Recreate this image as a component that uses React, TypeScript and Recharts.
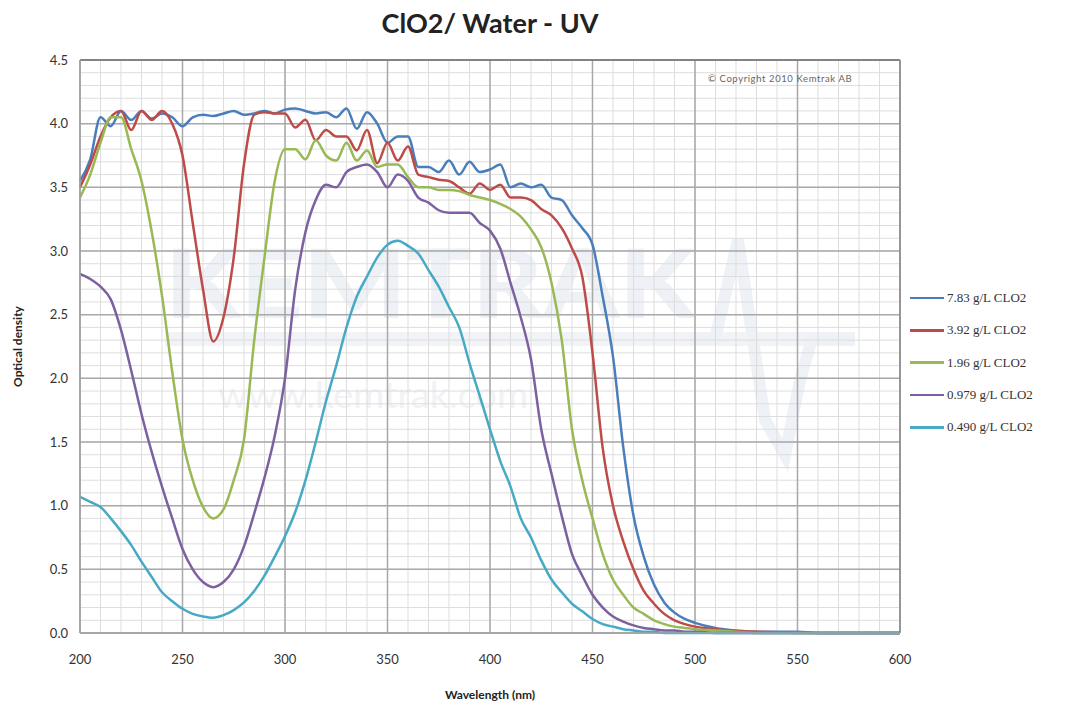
import React from 'react';
import { LineChart, Line, XAxis, YAxis, CartesianGrid, Label, ReferenceLine } from 'recharts';

// wavelength in nm
const wavelength = [
  200, 205, 210, 215, 220, 225, 230, 235, 240, 245,
  250, 255, 260, 265, 270, 275, 280, 285, 290, 295,
  300, 305, 310, 315, 320, 325, 330, 335, 340, 345,
  350, 355, 360, 365, 370, 375, 380, 385, 390, 395,
  400, 405, 410, 415, 420, 425, 430, 435, 440, 445,
  450, 455, 460, 465, 470, 475, 480, 485, 490, 495,
  500, 510, 520, 530, 540, 550, 560, 570, 580, 590, 600,
];

const od783 = [
  3.55, 3.72, 4.05, 3.98, 4.1, 4.03, 4.1, 4.04, 4.08, 4.05,
  3.98, 4.05, 4.07, 4.06, 4.08, 4.1, 4.07, 4.08, 4.1, 4.08,
  4.11, 4.12, 4.1, 4.08, 4.09, 4.05, 4.12, 3.96, 4.09, 4.0,
  3.85, 3.9, 3.9, 3.66, 3.66, 3.62, 3.71, 3.6, 3.7, 3.62,
  3.64, 3.68, 3.5, 3.53, 3.5, 3.52, 3.42, 3.4, 3.28, 3.18,
  3.05, 2.64, 2.17, 1.46, 0.92, 0.6, 0.38, 0.24, 0.16, 0.11,
  0.08, 0.04, 0.02, 0.01, 0.01, 0.01, 0, 0, 0, 0, 0,
];

const od392 = [
  3.5, 3.68, 3.9, 4.05, 4.1, 3.95, 4.1, 4.03, 4.1, 4.0,
  3.75, 3.22, 2.7, 2.29, 2.48, 2.95, 3.68, 4.07, 4.09, 4.08,
  4.08, 3.97, 4.03, 3.87, 3.95, 3.9, 3.9, 3.79, 3.95, 3.69,
  3.85, 3.71, 3.82, 3.6, 3.58, 3.56, 3.55, 3.5, 3.45, 3.53,
  3.48, 3.52, 3.42, 3.42, 3.4, 3.33, 3.28, 3.18, 3.02, 2.8,
  2.2, 1.45, 1.0, 0.72, 0.5, 0.33, 0.23, 0.15, 0.1, 0.07,
  0.05, 0.03, 0.015, 0.01, 0.005, 0, 0, 0, 0, 0, 0,
];

const od196 = [
  3.42, 3.6, 3.85, 4.05, 4.05, 3.8, 3.55, 3.15, 2.65, 2.05,
  1.52, 1.2, 0.99, 0.9, 0.97, 1.2, 1.52, 2.3, 2.95, 3.55,
  3.8, 3.8, 3.72, 3.87, 3.75, 3.71, 3.85, 3.71, 3.79, 3.66,
  3.68, 3.68, 3.58, 3.5, 3.5, 3.48, 3.48, 3.47, 3.44, 3.42,
  3.4, 3.37, 3.33, 3.27, 3.17, 3.03, 2.75, 2.3, 1.6, 1.2,
  0.9, 0.62, 0.42, 0.3, 0.2, 0.15, 0.1, 0.07, 0.05, 0.04,
  0.03, 0.02, 0.01, 0, 0, 0, 0, 0, 0, 0, 0,
];

const od0979 = [
  2.82, 2.78, 2.72, 2.62, 2.38, 2.06, 1.72, 1.42, 1.15, 0.9,
  0.66, 0.5, 0.4, 0.36, 0.4, 0.5, 0.68, 0.94, 1.22, 1.55,
  2.0, 2.7, 3.15, 3.4, 3.52, 3.5, 3.62, 3.66, 3.68, 3.62,
  3.5, 3.6, 3.55, 3.42, 3.38, 3.32, 3.3, 3.3, 3.3, 3.22,
  3.16, 3.02, 2.75, 2.48, 2.15, 1.6, 1.25, 0.92, 0.62, 0.45,
  0.3, 0.2, 0.13, 0.09, 0.06, 0.04, 0.03, 0.02, 0.02, 0.01,
  0.01, 0, 0, 0, 0, 0, 0, 0, 0, 0, 0,
];

const od0490 = [
  1.07, 1.03, 0.99, 0.9, 0.8, 0.69, 0.56, 0.44, 0.32, 0.25,
  0.19, 0.15, 0.13, 0.12, 0.14, 0.18, 0.24, 0.33, 0.45, 0.6,
  0.76, 0.95, 1.2, 1.5, 1.82, 2.1, 2.4, 2.64, 2.8, 2.95,
  3.05, 3.08, 3.04, 2.98, 2.85, 2.72, 2.56, 2.4, 2.12, 1.86,
  1.6, 1.35, 1.15, 0.9, 0.75, 0.57, 0.42, 0.32, 0.23, 0.17,
  0.11, 0.07, 0.05, 0.03, 0.02, 0.01, 0.01, 0, 0, 0,
  0, 0, 0, 0, 0, 0, 0, 0, 0, 0, 0,
];

const seriesKeys = ['s783', 's392', 's196', 's0979', 's0490'];
const seriesNames = ['7.83 g/L CLO2', '3.92 g/L CLO2', '1.96 g/L CLO2', '0.979 g/L CLO2', '0.490 g/L CLO2'];
const seriesColors = ['#4a7ebb', '#be4b48', '#98b954', '#7d60a0', '#46aac5'];
const seriesValues = [od783, od392, od196, od0979, od0490];

const xTicks = [200, 250, 300, 350, 400, 450, 500, 550, 600];
const yTicks = [0, 0.5, 1, 1.5, 2, 2.5, 3, 3.5, 4, 4.5];
const xDomain: [number, number] = [200, 600];
const yDomain: [number, number] = [0, 4.5];

const minorX: number[] = [];
for (let v = 200; v <= 600; v += 10) minorX.push(v);
const minorY: number[] = [];
for (let i = 0; i <= 45; i++) minorY.push(i / 10);

const data = wavelength.map((w, i) => {
  const row: Record<string, number> = { wavelength: w };
  seriesKeys.forEach((k, j) => { row[k] = seriesValues[j][i]; });
  return row;
});

const sans = 'Lato, "Open Sans", sans-serif';

// minor grid positions: use the axis scale when it is handed over, else the plot offset
const minorVertical = (props: any) => {
  const s = props?.xAxis?.scale;
  if (typeof s === 'function') return minorX.map((v) => s(v));
  if (s && typeof s.map === 'function') return minorX.map((v) => s.map(v));
  const o = props.offset;
  return minorX.map((v) => o.left + ((v - xDomain[0]) / (xDomain[1] - xDomain[0])) * o.width);
};
const minorHorizontal = (props: any) => {
  const s = props?.yAxis?.scale;
  if (typeof s === 'function') return minorY.map((v) => s(v));
  if (s && typeof s.map === 'function') return minorY.map((v) => s.map(v));
  const o = props.offset;
  return minorY.map((v) => o.top + o.height - ((v - yDomain[0]) / (yDomain[1] - yDomain[0])) * o.height);
};

export default function App() {
  return (
    <div style={{ position: 'absolute', left: 0, top: 0, width: 1073, height: 711, background: '#fff', overflow: 'hidden' }}>
      {/* watermark */}
      <svg width={1073} height={711} style={{ position: 'absolute', left: 0, top: 0 }}>
        <text x={165} y={318} fontFamily={sans} fontWeight={900} fontSize={96} fill="#eef1f5" textLength={530} lengthAdjust="spacingAndGlyphs">KEMTRAK</text>
        <rect x={165} y={332} width={690} height={14} fill="#f1f3f7" />
        <polyline points="690,339 715,339 738,240 765,420 785,455 800,380 812,339 855,339" fill="none" stroke="#eef1f5" strokeWidth={12} />
        <text x={218} y={408} fontFamily={sans} fontSize={36} fill="#f0f2f6" textLength={310} lengthAdjust="spacingAndGlyphs">www.kemtrak.com</text>
      </svg>
      <div style={{ position: 'absolute', left: 0, top: 6, width: 980, textAlign: 'center', fontFamily: sans, fontWeight: 700, fontSize: 27, color: '#222' }}>
        ClO2/ Water - UV
      </div>
      <div style={{ position: 'absolute', left: 0, top: 0 }}>
        <LineChart width={1073} height={711} data={data} margin={{ top: 60, right: 173, bottom: 0, left: 20 }}>
          <CartesianGrid
            stroke="#dddddd"
            strokeWidth={1}
            verticalCoordinatesGenerator={minorVertical}
            horizontalCoordinatesGenerator={minorHorizontal}
          />
          <CartesianGrid stroke="#a9a9a9" strokeWidth={1.5} />
          <XAxis
            dataKey="wavelength"
            type="number"
            domain={xDomain}
            ticks={xTicks}
            height={78}
            tickLine={false}
            tickSize={0}
            tickMargin={22}
            axisLine={{ stroke: '#a0a0a0', strokeWidth: 1.5 }}
            tick={{ fill: '#333', fontSize: 13, fontFamily: sans }}
          >
            <Label value="Wavelength (nm)" position="center" dy={23} style={{ fill: '#222', fontSize: 12, fontWeight: 700, fontFamily: sans }} />
          </XAxis>
          <YAxis
            type="number"
            domain={yDomain}
            ticks={yTicks}
            width={60}
            tickLine={false}
            tickSize={0}
            tickMargin={12}
            axisLine={{ stroke: '#a0a0a0', strokeWidth: 1.5 }}
            tickFormatter={(v: number) => v.toFixed(1)}
            tick={{ fill: '#333', fontSize: 13, fontFamily: sans }}
          >
            <Label value="Optical density" angle={-90} position="center" dx={-32} style={{ fill: '#222', fontSize: 12, fontWeight: 700, fontFamily: sans }} />
          </YAxis>
          <ReferenceLine y={4.5} stroke="#707070" strokeWidth={1.5} />
          <ReferenceLine x={600} stroke="#8a8a8a" strokeWidth={1.5} />
          {seriesKeys.map((k, j) => (
            <Line
              key={k}
              dataKey={k}
              name={seriesNames[j]}
              type="monotone"
              stroke={seriesColors[j]}
              strokeWidth={2.5}
              dot={false}
              activeDot={false}
              isAnimationActive={false}
            />
          ))}
        </LineChart>
      </div>
      <div style={{ position: 'absolute', left: 708, top: 73, fontFamily: sans, fontSize: 9.5, letterSpacing: 0.6, color: '#666' }}>
        © Copyright 2010 Kemtrak AB
      </div>
      <div style={{ position: 'absolute', left: 910, top: 282 }}>
        {seriesNames.map((n, j) => (
          <div key={n} style={{ display: 'flex', alignItems: 'center', height: 32.3 }}>
            <div style={{ width: 34, height: 2.5, background: seriesColors[j] }} />
            <span style={{ marginLeft: 3, fontFamily: '"Liberation Serif", serif', fontSize: 13, color: '#333' }}>{n}</span>
          </div>
        ))}
      </div>
    </div>
  );
}
